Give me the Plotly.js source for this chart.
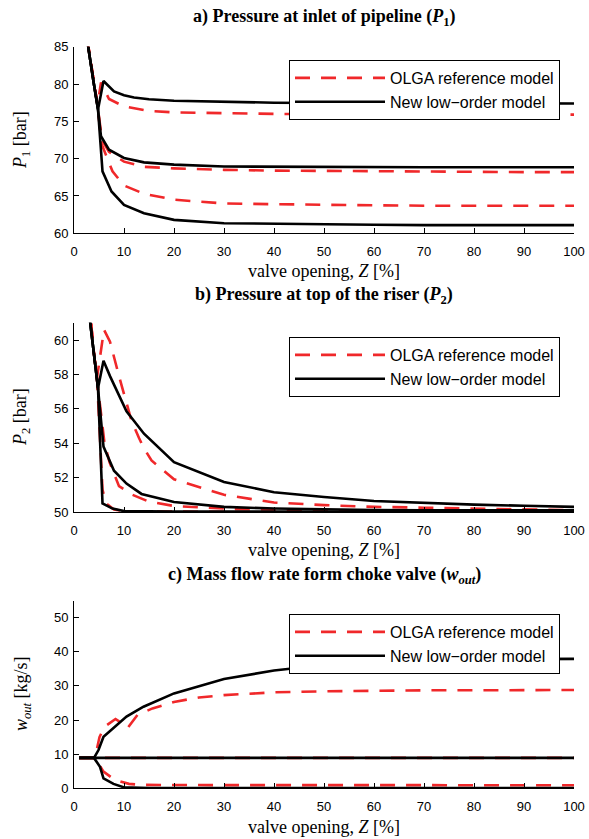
<!DOCTYPE html>
<html>
<head>
<meta charset="utf-8">
<script src="https://cdn.plot.ly/plotly-3.0.1.min.js"></script>
<style>html,body{margin:0;padding:0;background:#fff;}#chart{width:589px;height:839px;}</style>
</head>
<body>
<div id="chart"></div>
<script>
// ---------- Panel a: P1 [bar] ----------
const zA_new_max  = [1, 2, 3, 4, 4.8, 5.9, 8, 10, 12, 15, 20, 30, 40, 50, 60, 70, 80, 90, 100];
const pA_new_max  = [93, 88.5, 84.2, 79.9, 76.6, 80.4, 79.0, 78.5, 78.2, 77.95, 77.75, 77.6, 77.5, 77.45, 77.45, 77.45, 77.4, 77.4, 77.4];
const zA_new_mean = [1, 2, 3, 4, 4.8, 5.4, 7, 10, 14, 20, 30, 40, 50, 60, 70, 80, 90, 100];
const pA_new_mean = [93, 88.5, 84.2, 79.9, 76.6, 73.0, 71.2, 70.1, 69.5, 69.2, 68.95, 68.9, 68.9, 68.9, 68.85, 68.85, 68.85, 68.85];
const zA_new_min  = [1, 2, 3, 4, 4.8, 5.7, 7.5, 10, 14, 20, 30, 40, 50, 60, 70, 80, 90, 100];
const pA_new_min  = [93, 88.5, 84.2, 79.9, 76.6, 68.3, 65.6, 63.8, 62.7, 61.8, 61.35, 61.25, 61.2, 61.15, 61.1, 61.1, 61.1, 61.1];
const zA_olga_max  = [1, 2, 3, 4, 4.7, 5.4, 7, 10, 15, 20, 30, 40, 50, 60, 70, 80, 90, 100];
const pA_olga_max  = [93, 88.8, 84.5, 80.2, 77.2, 80.2, 78.0, 77.0, 76.4, 76.2, 76.05, 76.0, 75.95, 75.95, 75.9, 75.9, 75.9, 75.9];
const zA_olga_mean = [1, 2, 3, 4, 4.7, 5.6, 7, 10, 14, 20, 30, 40, 50, 60, 70, 80, 90, 100];
const pA_olga_mean = [93, 88.8, 84.5, 80.2, 77.2, 72.5, 70.9, 69.6, 68.9, 68.7, 68.5, 68.4, 68.35, 68.3, 68.3, 68.25, 68.2, 68.2];
const zA_olga_min  = [1, 2, 3, 4, 4.7, 5.5, 7.7, 10, 14, 20, 30, 40, 50, 60, 70, 80, 90, 100];
const pA_olga_min  = [93, 88.8, 84.5, 80.2, 77.2, 72.0, 68.3, 66.4, 65.3, 64.5, 64.0, 63.9, 63.8, 63.75, 63.7, 63.7, 63.7, 63.7];

// ---------- Panel b: P2 [bar] ----------
const zB_new_max  = [1, 2, 3, 4, 4.8, 5.9, 7.2, 10.5, 14, 20, 30, 40, 50, 60, 70, 80, 90, 100];
const pB_new_max  = [70, 64.5, 61.6, 59.2, 57.2, 58.8, 57.9, 55.85, 54.55, 52.9, 51.75, 51.15, 50.87, 50.64, 50.52, 50.43, 50.36, 50.3];
const zB_new_mean = [1, 2, 3, 4, 4.8, 5.9, 8, 10.5, 13.5, 20, 30, 40, 50, 60, 70, 80, 90, 100];
const pB_new_mean = [70, 64.5, 61.6, 59.2, 57.2, 53.8, 52.4, 51.65, 51.05, 50.58, 50.3, 50.2, 50.15, 50.12, 50.1, 50.1, 50.1, 50.1];
const zB_new_min  = [1, 2, 3, 4, 4.8, 5.7, 7.7, 10, 15, 20, 30, 50, 100];
const pB_new_min  = [70, 64.5, 61.6, 59.2, 57.2, 50.5, 50.2, 50.05, 50.03, 50.02, 50.02, 50.02, 50.02];
const zB_olga_max  = [1, 2, 3, 4, 4.6, 6.0, 7.2, 9, 11.5, 13, 14, 15.5, 20, 30, 40, 50, 60, 70, 80, 90, 100];
const pB_olga_max  = [70, 65.5, 62.2, 59.2, 57.8, 60.6, 59.9, 57.9, 55.3, 54.3, 53.7, 53.0, 51.9, 51.0, 50.55, 50.4, 50.3, 50.25, 50.2, 50.15, 50.1];
const zB_olga_mean = [1, 2, 3, 4, 4.6, 6.1, 7.1, 9, 11.7, 15, 20, 30, 50, 70, 100];
const pB_olga_mean = [70, 65.5, 62.2, 59.2, 57.8, 54.0, 52.9, 51.5, 51.0, 50.6, 50.35, 50.2, 50.1, 50.07, 50.05];
const zB_olga_min  = [1, 2, 3, 4, 4.6, 5.7, 6.4, 8, 10, 20, 50, 100];
const pB_olga_min  = [70, 65.5, 62.2, 59.2, 57.8, 51.3, 50.5, 50.15, 50.05, 50.02, 50.0, 50.0];

// ---------- Panel c: w_out [kg/s] ----------
const zC_new_max  = [1, 2, 3, 4, 4.9, 5.9, 10.5, 13.9, 20, 30, 40, 50, 60, 70, 80, 90, 100];
const wC_new_max  = [8.9, 8.9, 8.9, 8.9, 11.2, 15.1, 21.0, 23.9, 27.8, 32.0, 34.5, 36.1, 37.1, 37.6, 37.8, 37.9, 37.9];
const zC_new_mean = [1, 2, 3, 4, 5, 10, 20, 50, 100];
const wC_new_mean = [8.9, 8.9, 8.9, 8.9, 8.9, 8.9, 8.9, 8.9, 8.9];
const zC_new_min  = [1, 2, 3, 4, 5.2, 5.9, 7.9, 9.9, 15, 30, 100];
const wC_new_min  = [8.9, 8.9, 8.9, 8.9, 6.3, 2.9, 1.3, 0.3, 0.1, 0.05, 0.05];
const zC_olga_max  = [1, 2, 3, 4, 4.2, 5.1, 6.1, 8.3, 10.8, 12.7, 15.7, 20, 25, 30, 35, 40, 50, 60, 70, 80, 90, 100];
const wC_olga_max  = [8.9, 8.9, 8.9, 8.9, 8.9, 15.0, 18.0, 20.3, 17.8, 21.5, 23.4, 25.3, 26.6, 27.3, 27.8, 28.1, 28.4, 28.6, 28.7, 28.7, 28.8, 28.8];
const zC_olga_mean = [1, 2, 3, 4, 5, 10, 20, 50, 100];
const wC_olga_mean = [8.9, 8.9, 8.9, 8.9, 8.9, 8.9, 8.9, 8.9, 8.9];
const zC_olga_min  = [1, 2, 3, 4, 4.2, 5.9, 8.2, 11, 13.3, 20, 40, 100];
const wC_olga_min  = [8.9, 8.9, 8.9, 8.9, 8.9, 4.9, 2.4, 1.3, 1.0, 0.95, 0.9, 0.9];

const xTicks = [0, 10, 20, 30, 40, 50, 60, 70, 80, 90, 100];
const yTicksA = [60, 65, 70, 75, 80, 85];
const yTicksB = [50, 52, 54, 56, 58, 60];
const yTicksC = [0, 10, 20, 30, 40, 50];
const nameOlga = 'OLGA reference model';
const nameNew = 'New low\u2212order model';

const RED = '#f0282a';
const redLine = {color: RED, width: 2.6, dash: '15px,11px'};
const blackLine = {color: '#000', width: 2.6};

function trace(x, y, ax, line, name, legend, show) {
  return {x: x, y: y, xaxis: 'x' + ax, yaxis: 'y' + ax, type: 'scatter', mode: 'lines',
          line: line, name: name, legend: legend, showlegend: show, hoverinfo: 'skip'};
}

const data = [
  trace(zA_olga_max, pA_olga_max, '', redLine, nameOlga, 'legend', true),
  trace(zA_olga_mean, pA_olga_mean, '', redLine, nameOlga, 'legend', false),
  trace(zA_olga_min, pA_olga_min, '', redLine, nameOlga, 'legend', false),
  trace(zA_new_max, pA_new_max, '', blackLine, nameNew, 'legend', true),
  trace(zA_new_mean, pA_new_mean, '', blackLine, nameNew, 'legend', false),
  trace(zA_new_min, pA_new_min, '', blackLine, nameNew, 'legend', false),

  trace(zB_olga_max, pB_olga_max, '2', redLine, nameOlga, 'legend2', true),
  trace(zB_olga_mean, pB_olga_mean, '2', redLine, nameOlga, 'legend2', false),
  trace(zB_olga_min, pB_olga_min, '2', redLine, nameOlga, 'legend2', false),
  trace(zB_new_max, pB_new_max, '2', blackLine, nameNew, 'legend2', true),
  trace(zB_new_mean, pB_new_mean, '2', blackLine, nameNew, 'legend2', false),
  trace(zB_new_min, pB_new_min, '2', blackLine, nameNew, 'legend2', false),

  trace(zC_olga_max, wC_olga_max, '3', redLine, nameOlga, 'legend3', true),
  trace(zC_olga_mean, wC_olga_mean, '3', redLine, nameOlga, 'legend3', false),
  trace(zC_olga_min, wC_olga_min, '3', redLine, nameOlga, 'legend3', false),
  trace(zC_new_max, wC_new_max, '3', blackLine, nameNew, 'legend3', true),
  trace(zC_new_mean, wC_new_mean, '3', blackLine, nameNew, 'legend3', false),
  trace(zC_new_min, wC_new_min, '3', blackLine, nameNew, 'legend3', false)
];

const H = 839;
const py = p => 1 - p / H;
const tickFont = {family: 'Liberation Sans, Arial, sans-serif', size: 13, color: '#000'};
const serif = 'Liberation Serif, Times New Roman, serif';

function xax(anchor) {
  return {domain: [0, 1], range: [0, 100], tickvals: xTicks, ticks: 'inside', ticklen: 5, tickwidth: 1,
          tickcolor: '#000', showline: true, linecolor: '#000', linewidth: 1, showgrid: false,
          zeroline: false, mirror: false, tickfont: tickFont, anchor: anchor, fixedrange: true,
          ticklabelstandoff: 6};
}
function yax(anchor, dom, range, vals) {
  return {domain: dom, range: range, tickvals: vals, ticks: 'inside', ticklen: 5, tickwidth: 1,
          tickcolor: '#000', showline: true, linecolor: '#000', linewidth: 1, showgrid: false,
          zeroline: false, mirror: false, tickfont: tickFont, anchor: anchor, fixedrange: true,
          ticklabelstandoff: 2};
}
function leg(topPix) {
  return {x: 0.43, y: py(topPix), xanchor: 'left', yanchor: 'top', bordercolor: '#000', borderwidth: 1,
          bgcolor: '#fff', font: {family: 'Liberation Sans, Arial, sans-serif', size: 16, color: '#000'},
          itemwidth: 90, tracegroupgap: 0};
}
function ann(text, xp, yp, size, extra) {
  return Object.assign({text: text, xref: 'paper', yref: 'paper', x: xp, y: py(yp), xanchor: 'center',
          yanchor: 'middle', showarrow: false, font: {family: serif, size: size, color: '#000'}}, extra || {});
}
const yTitleX = (22 - 74) / 500;

const layout = {
  width: 589, height: 839,
  margin: {l: 74, r: 15, t: 0, b: 0},
  paper_bgcolor: '#fff', plot_bgcolor: '#fff',
  showlegend: true,
  xaxis: xax('y'), yaxis: yax('x', [py(233.3), py(46.7)], [60, 85], yTicksA),
  xaxis2: xax('y2'), yaxis2: yax('x2', [py(512), py(322.8)], [50, 61], yTicksB),
  xaxis3: xax('y3'), yaxis3: yax('x3', [py(788.3), py(600.5)], [0, 55], yTicksC),
  legend: leg(60), legend2: leg(337), legend3: leg(614),
  annotations: [
    ann('<b>a) Pressure at inlet of pipeline (<i>P</i><sub>1</sub>)</b>', 0.5, 18, 18),
    ann('<b>b) Pressure at top of the riser (<i>P</i><sub>2</sub>)</b>', 0.5, 296, 18),
    ann('<b>c) Mass flow rate form choke valve (<i>w</i><sub><i>out</i></sub>)</b>', 0.5, 575, 18),
    ann('valve opening, <i>Z</i> [%]', 0.5, 271, 18),
    ann('valve opening, <i>Z</i> [%]', 0.5, 550, 18),
    ann('valve opening, <i>Z</i> [%]', 0.5, 827, 18),
    ann('<i>P</i><sub>1</sub> [bar]', yTitleX, 140, 18, {textangle: -90}),
    ann('<i>P</i><sub>2</sub> [bar]', yTitleX, 417, 18, {textangle: -90}),
    ann('<i>w</i><sub><i>out</i></sub> [kg/s]', yTitleX, 694, 18, {textangle: -90})
  ]
};

Plotly.newPlot('chart', data, layout, {displayModeBar: false, staticPlot: true});
</script>
</body>
</html>
